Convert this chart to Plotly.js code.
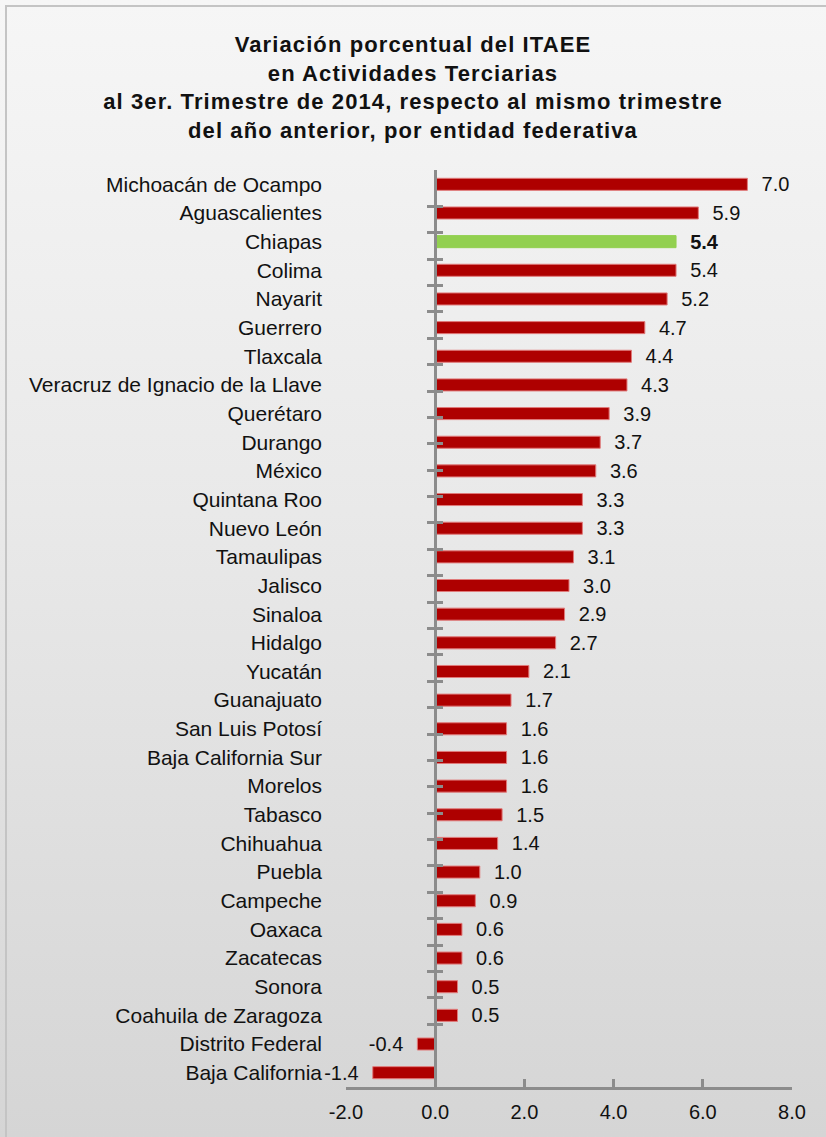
<!DOCTYPE html>
<html>
<head>
<meta charset="utf-8">
<script src="https://cdn.plot.ly/plotly-3.0.1.min.js"></script>
<style>
  html, body { margin:0; padding:0; width:826px; height:1137px; overflow:hidden;
    background: linear-gradient(to bottom, #f6f6f6 0%, #e9e9e9 45%, #d5d5d5 100%); }
  #frame { position:absolute; left:5px; top:5px; width:900px; height:1200px;
    border-left:2px solid #c4c4c4; border-top:2px solid #c4c4c4; }
  #chart { position:absolute; left:0; top:0; width:826px; height:1137px; }
  #chart .gtitle { letter-spacing: 1.1px; }
</style>
</head>
<body>
<div id="frame"></div>
<div id="chart"></div>
<script>
const entidades = [
  "Michoacán de Ocampo","Aguascalientes","Chiapas","Colima","Nayarit","Guerrero",
  "Tlaxcala","Veracruz de Ignacio de la Llave","Querétaro","Durango","México",
  "Quintana Roo","Nuevo León","Tamaulipas","Jalisco","Sinaloa","Hidalgo","Yucatán",
  "Guanajuato","San Luis Potosí","Baja California Sur","Morelos","Tabasco","Chihuahua",
  "Puebla","Campeche","Oaxaca","Zacatecas","Sonora","Coahuila de Zaragoza",
  "Distrito Federal","Baja California"
];
const variacion = [
  7.0, 5.9, 5.4, 5.4, 5.2, 4.7,
  4.4, 4.3, 3.9, 3.7, 3.6,
  3.3, 3.3, 3.1, 3.0, 2.9, 2.7, 2.1,
  1.7, 1.6, 1.6, 1.6, 1.5, 1.4,
  1.0, 0.9, 0.6, 0.6, 0.5, 0.5,
  -0.4, -1.4
];
const destacada = "Chiapas";
const xTicks = [-2, 0, 2, 4, 6, 8];
const xTickLabels = ["-2.0","0.0","2.0","4.0","6.0","8.0"];
const xRange = [-2, 8];

const RED = "#ae0000", GREEN = "#92d050";
const NB = "\u00a0\u00a0";
const colors = entidades.map(e => e === destacada ? GREEN : RED);
const lineColors = entidades.map(e => e === destacada ? GREEN : "#e07a7a");
const texts = variacion.map((v, i) => {
  let s = v.toFixed(1);
  if (entidades[i] === destacada) s = "<b>" + s + "</b>";
  return v < 0 ? s + NB : NB + s;
});

const zeroPos = (0 - xRange[0]) / (xRange[1] - xRange[0]);
const FONT = "Liberation Sans, Arial, sans-serif";

const traces = [
  {
    type: "bar", orientation: "h",
    x: variacion, y: entidades,
    marker: { color: colors, line: { color: lineColors, width: 1 } },
    width: 0.42,
    text: texts, textposition: "outside", cliponaxis: false,
    constraintext: "none",
    textfont: { family: FONT, size: 20, color: "#111" },
    hoverinfo: "x+y"
  },
  { type: "scatter", mode: "markers", x: entidades.map(() => 0), y: entidades, yaxis: "y2",
    marker: { opacity: 0 }, hoverinfo: "skip", showlegend: false },
  { type: "scatter", mode: "markers", x: entidades.map(() => 0), y: entidades, yaxis: "y3",
    marker: { opacity: 0 }, hoverinfo: "skip", showlegend: false }
];

const catAxisBase = {
  type: "category", categoryorder: "array", categoryarray: entidades,
  autorange: "reversed", fixedrange: true
};

const layout = {
  width: 826, height: 1137,
  paper_bgcolor: "rgba(0,0,0,0)", plot_bgcolor: "rgba(0,0,0,0)",
  margin: { l: 346, r: 34, t: 170, b: 50 },
  showlegend: false,
  font: { family: FONT, color: "#111" },
  title: {
    text: "<b>Variación porcentual del ITAEE<br>en Actividades Terciarias<br>al 3er. Trimestre de 2014, respecto al mismo trimestre<br>del año anterior, por entidad federativa</b>",
    font: { family: FONT, size: 22, color: "#111" },
    x: 0.5, xref: "container", xanchor: "center",
    y: 1 - 52 / 1137, yref: "container", yanchor: "top"
  },
  xaxis: {
    range: xRange, tickvals: xTicks, ticktext: xTickLabels,
    showgrid: false, zeroline: false,
    showline: true, linecolor: "#8c8c8c", linewidth: 3,
    ticks: "inside", ticklen: 8, tickwidth: 3, tickcolor: "#8c8c8c",
    tickfont: { size: 20, color: "#111" }, ticklabelstandoff: 5,
    fixedrange: true
  },
  yaxis: Object.assign({}, catAxisBase, {
    showgrid: false, zeroline: false, showline: false, ticks: "",
    tickfont: { size: 21, color: "#111" }, ticklabelstandoff: 23
  }),
  yaxis2: Object.assign({}, catAxisBase, {
    overlaying: "y", anchor: "free", position: zeroPos, side: "left",
    showgrid: false, zeroline: false, showticklabels: false,
    showline: true, linecolor: "#8c8c8c", linewidth: 3,
    ticks: "outside", tickson: "boundaries", ticklen: 7, tickwidth: 3, tickcolor: "#8c8c8c"
  }),
  yaxis3: Object.assign({}, catAxisBase, {
    overlaying: "y", anchor: "free", position: zeroPos, side: "left",
    showgrid: false, zeroline: false, showticklabels: false,
    showline: false,
    ticks: "inside", tickson: "boundaries", ticklen: 7, tickwidth: 3, tickcolor: "#8c8c8c"
  })
};

Plotly.newPlot("chart", traces, layout, { displayModeBar: false, staticPlot: true });
</script>
</body>
</html>
